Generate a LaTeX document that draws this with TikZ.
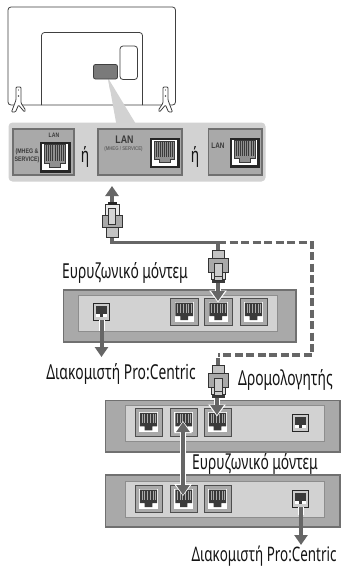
\documentclass[tikz,border=0pt]{standalone}
\usepackage{fontspec}
\setmainfont{Noto Sans}
\newfontfamily\narrowf[FakeStretch=0.67]{Noto Sans}
\newfontfamily\arialn[FakeStretch=0.8]{Liberation Sans}
\usetikzlibrary{arrows.meta}
\definecolor{panelc}{HTML}{D2D2D2}
\definecolor{boxc}{HTML}{A9A9A9}
\definecolor{edgec}{HTML}{707070}
\definecolor{cablec}{HTML}{666666}
\definecolor{darkc}{HTML}{3A3A3A}
\tikzset{
  outline/.style={draw=black!75,line width=0.8pt,fill=white,rounded corners=2pt},
  cable/.style={cablec,line width=3.6pt},
  dashcable/.style={cablec,line width=3.6pt,dash pattern=on 8pt off 3.5pt},
  link/.style={cablec,line width=4pt,-{Triangle[length=10pt,width=13pt]}},
  linktwo/.style={cablec,line width=4pt,{Triangle[length=10pt,width=13pt]}-{Triangle[length=10pt,width=13pt]}},
  halo/.style={white,line width=6pt,-{Triangle[length=12pt,width=17pt]}},
  halotwo/.style={white,line width=6pt,{Triangle[length=12pt,width=17pt]}-{Triangle[length=12pt,width=17pt]}},
  panelbox/.style={fill=boxc,draw=edgec,line width=1.2pt},
  outerbox/.style={fill=boxc,draw=edgec,line width=1.4pt},
  innerbox/.style={fill=panelc,draw=edgec!80,line width=1pt},
  label/.style={font=\narrowf\fontsize{20.6}{21}\selectfont,text=black!92,inner sep=0pt},
  tiny/.style={font=\arialn\bfseries\fontsize{6.4}{7}\selectfont,text=darkc,inner sep=0pt,align=center},
}
\newcommand{\bigjack}[4]{%
 \begin{scope}[shift={(#1,#2)},x={(#3-#1,0)},y={(0,#4-#2)}]
  \fill[black!85] (0,0) rectangle (1,1);
  \fill[white] (.07,.07) rectangle (.93,.93);
  \fill[boxc!85!black,draw=darkc,line width=.5pt] (.16,.1)--(.84,.1)--(.84,.7)--(.68,.7)--(.68,.82)--(.32,.82)--(.32,.7)--(.16,.7)--cycle;
  \foreach \k in {.22,.29,...,.8} \draw[darkc,line width=.8pt] (\k,.12)--(\k,.62);
 \end{scope}}
\newcommand{\swjack}[4]{%
 \begin{scope}[shift={(#1,#2)},x={(#3-#1,0)},y={(0,#4-#2)}]
  \fill[boxc,draw=darkc!90,line width=.9pt] (0,0) rectangle (1,1);
  \fill[white] (.15,.13) rectangle (.85,.87);
  \fill[darkc] (.18,.17)--(.82,.17)--(.82,.66)--(.64,.66)--(.64,.8)--(.36,.8)--(.36,.66)--(.18,.66)--cycle;
  \foreach \k in {.26,.36,...,.78} \draw[boxc,line width=.6pt] (\k,.2)--(\k,.55);
 \end{scope}}
\newcommand{\smjack}[4]{%
 \begin{scope}[shift={(#1,#2)},x={(#3-#1,0)},y={(0,#4-#2)}]
  \fill[boxc!60,draw=black!85,line width=1pt] (0,0) rectangle (1,1);
  \fill[darkc] (.14,.14) rectangle (.86,.64);
  \fill[white] (.14,.64) rectangle (.86,.84);
  \fill[darkc] (.38,.6) rectangle (.62,.8);
 \end{scope}}
% plug with contacts pointing down; y measured from its top
\newcommand{\plugdown}[2]{%
 \begin{scope}[shift={(#1,#2)}]
  \fill[boxc!70,draw=black!80,line width=.9pt] (-6,0) rectangle (6,8);
  \fill[darkc] (-6.5,29) rectangle (6.5,33);
  \fill[boxc!40,draw=black!80,line width=.9pt] (-7,22) rectangle (7,29);
  \fill[boxc,draw=black!80,line width=.9pt] (-10,8) rectangle (10,22);
  \fill[boxc!60,draw=black!80,line width=.8pt] (-4,13) rectangle (4,30);
  \fill[darkc] (-4,26) rectangle (4,27);
 \end{scope}}
% plug with contacts pointing up; y measured from its top
\newcommand{\plugup}[2]{%
 \begin{scope}[shift={(#1,#2)}]
  \fill[boxc!70,draw=black!80,line width=.9pt] (-6,25) rectangle (6,35);
  \fill[boxc,draw=black!80,line width=.9pt] (-10,13) rectangle (10,25);
  \fill[boxc!25,draw=black!80,line width=.9pt] (-7,2) rectangle (7,13);
  \fill[boxc!50,draw=black!80,line width=.8pt] (-3.5,6) rectangle (3.5,22);
  \fill[black!85] (-4.5,0) rectangle (4.5,3);
 \end{scope}}
\begin{document}
\begin{tikzpicture}[x=1pt,y=-1pt]
\useasboundingbox (0,0) rectangle (341,568);
\fill[white] (0,0) rectangle (341,568);
% TV
\path[outline,rounded corners=3pt] (8,7) rectangle (175.5,105);
\draw[outline,fill=none,rounded corners=3pt] (41.5,105) -- (41.5,32.5) -- (142.5,32.5) -- (142.5,105);
\draw[outline,rounded corners=3pt] (120,46) rectangle (137.5,79.5);
% feet
\foreach \fx/\sk in {18.5/-1,165.5/1}{
 \begin{scope}[shift={(\fx,0)},xscale=\sk]
  \draw[outline,fill=white,rounded corners=1pt,line width=.8pt] (-2.5,87) -- (2.5,87) -- (2.5,100) -- (7,112) -- (3,112) -- (0,105) -- (-6,112) -- (-7,110) -- (-2.5,103) -- cycle;
  \fill[black!70] (0,96) circle (.9);
  \fill[black!70] (0,90) circle (.7);
 \end{scope}}
% panel
\fill[panelc] (108,78)--(116.5,125)--(136.5,125)--cycle;
\fill[panelc,rounded corners=4pt] (8.5,122.5) rectangle (265.5,181.5);
\draw[fill=black!52,draw=black!75,line width=.8pt,rounded corners=2pt] (93.5,64.5) rectangle (117.5,79);
\fill[panelc] (108,79.4)--(110,90)--(112,90)--cycle;
\draw[panelbox] (13,129) rectangle (74,175);
\draw[panelbox] (98,129) rectangle (182,175);
\draw[panelbox] (208.5,129) rectangle (262,175);
\bigjack{39.5}{141.5}{70.5}{172.5}
\bigjack{149.5}{138}{179.5}{168}
\bigjack{230}{137.5}{259.5}{167.5}
\node[tiny] (lanA) at (54,135.5) {LAN};
\node[tiny,font=\arialn\bfseries\fontsize{6.6}{7.6}\selectfont] (mhegA) at (27,156) {(MHEG \&\\SERVICE)};
\node[tiny,font=\arialn\bfseries\fontsize{11}{12}\selectfont] (lanB) at (124.5,140) {LAN};
\node[tiny,font=\arialn\bfseries\fontsize{5.4}{6}\selectfont,text=black!60] (mhegB) at (123.5,149) {(MHEG / SERVICE)};
\node[tiny,font=\arialn\bfseries\fontsize{8}{9}\selectfont] (lanC) at (218,146) {LAN};
\node[label] (orA) at (85,157) {ή};
\node[label] (orB) at (195,157) {ή};
% cables
\coordinate (upTip) at (112,186);
\coordinate (upBase) at (112,204);
\coordinate (joint) at (112,242.5);
\coordinate (tee) at (218,242.5);
\coordinate (dashA) at (312,242.5);
\coordinate (dashB) at (312,355);
\coordinate (dashC) at (218,355);
\draw[cable] (112,235) -- (joint) -- (tee) -- (218,252);
\draw[dashcable] (tee) -- (dashA) -- (dashB) -- (dashC);
\draw[cable] (218,358) -- (218,368);
\draw[link] (upBase) -- (upTip);
\plugup{112}{202}
% modem 1
\draw[outerbox] (63.5,290) rectangle (296,342);
\draw[innerbox] (78,295) rectangle (277,331);
\smjack{93.5}{303.5}{109.5}{320}
\swjack{170.5}{298}{198}{325.5}
\swjack{204.5}{298}{232}{325.5}
\swjack{240}{298}{267}{325.5}
\node[label] (modemA) at (125,272.5) {Ευρυζωνικό μόντεμ};
\coordinate (sA) at (101.5,320);
\coordinate (sAe) at (101.5,357);
\draw[white,line width=6pt] (sA) -- ++(0,11);
\draw[link] (sA) -- (sAe);
\node[label] (serverA) at (121,374) {Διακομιστή Pro:Centric};
\coordinate (p1) at (218,282);
\coordinate (p1e) at (218,301);
\draw[halo] (p1) -- (218,302.5);
\draw[link] (p1) -- (p1e);
\plugdown{218}{250}
% router
\draw[outerbox] (105.5,400.5) rectangle (340,452);
\draw[innerbox] (125,405.5) rectangle (324,441.5);
\swjack{135}{408}{162}{436}
\swjack{170.5}{408}{197}{436}
\swjack{204}{408}{231}{436}
\smjack{292.5}{414.5}{308.5}{431}
% lower box
\draw[outerbox] (105.5,475) rectangle (340,527);
\draw[innerbox] (125,481) rectangle (324,517);
\swjack{135}{485}{162}{512.5}
\swjack{170.5}{485}{197}{512.5}
\swjack{204}{485}{231}{512.5}
\smjack{292.5}{490.5}{308.5}{507}
% plug to router
\coordinate (p2) at (217,396);
\coordinate (p2e) at (217,415);
\draw[halo] (p2) -- (217,416.5);
\draw[link] (p2) -- (p2e);
\plugdown{218}{365}
% double arrow
\coordinate (dA) at (183,422);
\coordinate (dB) at (183,495);
\draw[halotwo] (183,421) -- (183,496);
\draw[linktwo] (dA) -- (dB);
\coordinate (sB) at (301,507);
\coordinate (sBe) at (301,545);
\draw[white,line width=6pt] (sB) -- ++(0,8);
\draw[link] (sB) -- (sBe);
\node[label] (routerL) at (285.5,379.5) {Δρομολογητής};
\node[label] (modemB) at (255,463.5) {Ευρυζωνικό μόντεμ};
\node[label,font=\narrowf\fontsize{20}{21}\selectfont] (serverB) at (264,556.5) {Διακομιστή Pro:Centric};
\end{tikzpicture}
\end{document}
